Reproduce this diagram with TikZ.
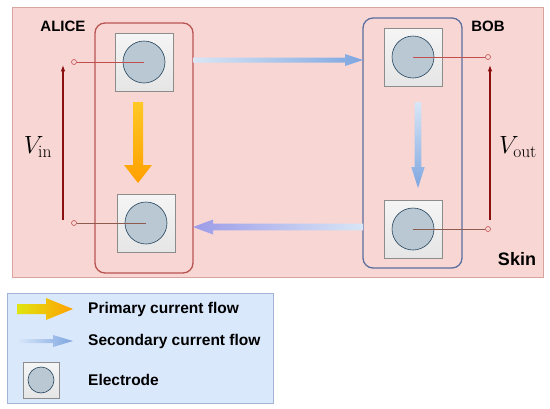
\documentclass[tikz,border=0pt]{standalone}
\usepackage{fontspec}
\setsansfont{Liberation Sans}
\usepackage{tikz}
\usetikzlibrary{arrows.meta,calc}
\definecolor{skinfill}{HTML}{F8D6D4}
\definecolor{skinline}{HTML}{D9A3A0}
\definecolor{alicered}{HTML}{B85450}
\definecolor{bobblue}{HTML}{5B6FA0}
\definecolor{discfill}{HTML}{BAC8D3}
\definecolor{discline}{HTML}{23445D}
\definecolor{wirered}{HTML}{C0504D}
\definecolor{wirebrown}{HTML}{8E5B50}
\definecolor{voltred}{HTML}{8B0F0F}
\definecolor{legfill}{HTML}{DAE8FC}
\definecolor{legline}{HTML}{A3B3D6}
\definecolor{primyel}{HTML}{FFC825}
\definecolor{primora}{HTML}{FFA000}
\definecolor{secpale}{HTML}{D8E6F6}
\definecolor{secblue}{HTML}{7EA6E0}
\definecolor{secpurple}{HTML}{9C9CE8}
\tikzset{
  group/.style={rounded corners=10pt, line width=1.3pt, minimum width=98pt, minimum height=250pt, inner sep=0pt},
  elec/.style={draw=black!45, top color=black!4, bottom color=black!10, minimum size=58pt, inner sep=0pt, line width=0.6pt},
  disc/.style={circle, draw=discline, fill=discfill, minimum size=42pt, inner sep=0pt, line width=0.6pt},
  term/.style={circle, draw=wirered, fill=skinfill, minimum size=5pt, inner sep=0pt, line width=0.6pt},
  wire/.style={line width=1pt},
  volt/.style={-{Latex[length=2.2mm,width=1.6mm]}, draw=voltred, line width=1.2pt},
  tag/.style={font=\sffamily\bfseries\fontsize{15}{18}\selectfont, inner sep=0pt},
  legtext/.style={font=\sffamily\bfseries\fontsize{15.5}{18}\selectfont, anchor=west, inner sep=0pt},
  vlabel/.style={font=\fontsize{25}{30}\selectfont, inner sep=0pt}
}
\begin{document}
\begin{tikzpicture}[x=1pt, y=-1pt]
\useasboundingbox (0,0) rectangle (550,408);
% skin
\draw[draw=skinline, fill=skinfill] (12,7) rectangle (543,277);
% groups
\node[group, draw=alicered] (alice) at (144,148) {};
\node[group, draw=bobblue, minimum width=99pt] (bob) at (412.5,143) {};
% electrodes
\node[elec] (a1) at (144,62) {};
\node[disc] (a1d) at (a1) {};
\node[elec] (a2) at (146,223) {};
\node[disc] (a2d) at (a2) {};
\node[elec] (b1) at (413,57) {};
\node[disc] (b1d) at (b1) {};
\node[elec] (b2) at (413,229) {};
\node[disc] (b2d) at (b2) {};
% terminals and wires
\node[term] (ta1) at (74,62) {};
\node[term] (ta2) at (74,223) {};
\node[term] (tb1) at (488,57) {};
\node[term] (tb2) at (488,229) {};
\draw[wire, wirered] (ta1) -- (a1.center);
\draw[wire, wirebrown] (ta2) -- (a2.center);
\draw[wire, wirered] (tb1) -- (b1.center);
\draw[wire, wirebrown] (tb2) -- (b2.center);
% voltages
\coordinate (vin0) at (63,220);
\coordinate (vin1) at (63,65);
\coordinate (vout0) at (490,220);
\coordinate (vout1) at (490,65);
\draw[volt] (vin0) -- (vin1);
\draw[volt] (vout0) -- (vout1);
\node[vlabel] (vin) at (38,147) {$V_{\mathrm{in}}$};
\node[vlabel] (vout) at (518,147) {$V_{\mathrm{out}}$};
% labels
\node[tag] (alicetag) at (63,26) {ALICE};
\node[tag] (bobtag) at (488,26) {BOB};
\node[tag, font=\sffamily\bfseries\fontsize{18}{21}\selectfont] (skintag) at (517,259) {Skin};
% current flows
\shade[top color=primyel, bottom color=primora] (133,102) -- (133,165) -- (124,165) -- (138,183) -- (152,165) -- (143,165) -- (143,102) -- cycle;
\shade[left color=secpale, right color=secblue] (193,57.5) -- (345,57.5) -- (345,54) -- (363,60) -- (345,66) -- (345,62.5) -- (193,62.5) -- cycle;
\shade[top color=secpale, bottom color=secblue] (414.7,102) -- (414.7,167) -- (411.3,167) -- (418,188) -- (424.7,167) -- (421.3,167) -- (421.3,102) -- cycle;
\shade[left color=secpurple, right color=secpale] (193,227) -- (213,219.5) -- (213,223.7) -- (363,223.7) -- (363,230.3) -- (213,230.3) -- (213,234.5) -- cycle;
% legend
\draw[draw=legline, fill=legfill] (7,293) rectangle (273,403);
\shade[left color=primyel!80!green!60!yellow, right color=primora] (17,304) -- (46,304) -- (46,298) -- (73,309) -- (46,320) -- (46,314) -- (17,314) -- cycle;
\shade[left color=secpale!40!legfill, right color=secblue] (17,339) -- (53,339) -- (53,335) -- (73,341) -- (53,347) -- (53,343) -- (17,343) -- cycle;
\node[elec, minimum size=36pt] (le) at (41,380) {};
\node[disc, minimum size=26pt] (led) at (le) {};
\node[legtext] (l1) at (88,309) {Primary current flow};
\node[legtext] (l2) at (88,341) {Secondary current flow};
\node[legtext] (l3) at (88,380) {Electrode};
\end{tikzpicture}
\end{document}
